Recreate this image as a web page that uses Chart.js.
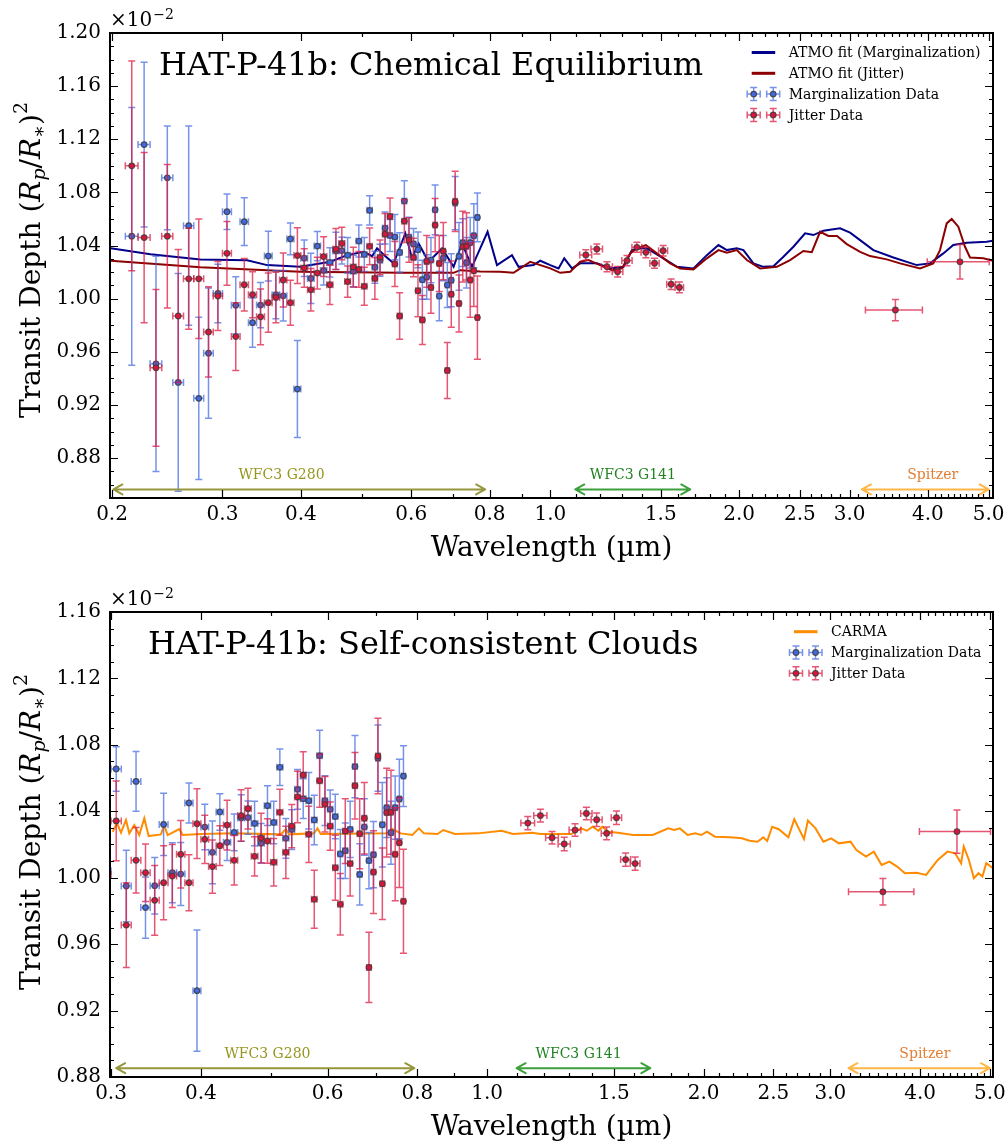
<!DOCTYPE html>
<html><head><meta charset="utf-8">
<script src="https://cdn.jsdelivr.net/npm/chart.js@4.4.1/dist/chart.umd.min.js"></script>
<style>
html,body{margin:0;padding:0;background:#fff;}
#wrap{position:relative;width:1008px;height:1142px;background:#fff;}
canvas{position:absolute;left:0;}
</style></head><body>
<div id="wrap"><canvas id="c1" width="1008" height="571" style="top:0px"></canvas><canvas id="c2" width="1008" height="571" style="top:571px"></canvas></div>
<script>
// ---------------- DATA ----------------
const wavelengthG280 = [0.215,0.225,0.235,0.245,0.255,0.265,0.275,0.285,0.295,0.305,0.315,0.325,0.335,0.345,0.355,0.365,0.375,0.385,0.395,0.405,0.415,0.425,0.435,0.445,0.455,0.465,0.475,0.485,0.495,0.505,0.515,0.525,0.535,0.545,0.555,0.565,0.575,0.585,0.595,0.605,0.615,0.625,0.635,0.645,0.655,0.665,0.675,0.685,0.695,0.705,0.715,0.725,0.735,0.745,0.755,0.765];
const margDepth = [1.047,1.116,0.951,1.091,0.937,1.055,0.925,0.959,1.004,1.0655,0.995,1.058,0.982,0.9952,1.0321,1.003,1.0022,1.045,0.932,1.0305,1.0153,1.0396,1.0213,1.0273,1.036,1.0362,1.0327,1.0207,1.0434,1.0333,1.0665,1.0237,1.029,1.0532,1.0476,1.0464,1.0348,1.0735,1.0464,1.0412,1.0368,1.0143,1.0163,1.0291,1.0669,1.002,1.0305,1.0103,1.0139,1.072,1.0319,1.0422,1.0271,1.0422,1.0474,1.0612];
const margErr = [0.097,0.062,0.081,0.039,0.082,0.075,0.061,0.049,0.022,0.0134,0.0215,0.018,0.0185,0.017,0.0187,0.018,0.019,0.012,0.0365,0.0137,0.0189,0.011,0.011,0.011,0.014,0.010,0.0134,0.012,0.012,0.0128,0.011,0.012,0.012,0.012,0.012,0.017,0.0149,0.0153,0.015,0.0116,0.0134,0.0147,0.0167,0.017,0.0187,0.0185,0.017,0.017,0.020,0.020,0.0255,0.018,0.019,0.019,0.024,0.0183];
const jitterDepthG280 = [1.100,1.046,0.948,1.047,0.987,1.015,1.015,0.975,1.002,1.0342,0.9715,1.0105,1.003,0.9864,0.997,1.001,1.0141,0.997,1.0325,1.0231,1.0067,1.0193,1.0317,1.0105,1.0374,1.0416,1.0129,1.0239,1.0221,1.0093,1.0394,1.0153,1.0311,1.0486,1.0619,1.0261,0.987,1.0584,1.0442,1.0311,1.006,0.984,1.0281,1.0085,1.0554,1.0265,1.0358,0.946,1.0034,1.0733,0.9964,1.0392,1.0394,1.0141,1.0211,0.9858];
const jitterErrG280 = [0.079,0.064,0.059,0.054,0.050,0.038,0.045,0.034,0.026,0.024,0.0255,0.0197,0.0173,0.021,0.0223,0.019,0.0203,0.0169,0.021,0.0145,0.016,0.012,0.015,0.0149,0.0155,0.0122,0.0118,0.0149,0.0134,0.0143,0.0138,0.0157,0.013,0.0155,0.014,0.017,0.0175,0.016,0.0167,0.0145,0.0195,0.0185,0.0195,0.0195,0.020,0.0211,0.0215,0.0211,0.0249,0.0227,0.0215,0.0267,0.0253,0.028,0.027,0.0313];
const halfBinG280 = 0.005;
const wavelengthG141 = [1.139,1.186,1.231,1.280,1.325,1.374,1.420,1.466,1.513,1.558,1.606];
const depthG141 = [1.0329,1.0374,1.0241,1.0203,1.0287,1.0387,1.0349,1.0267,1.0361,1.0109,1.0085];
const errG141 = [0.0040,0.0038,0.0038,0.0040,0.0038,0.0038,0.0040,0.0038,0.0040,0.0040,0.0040];
const halfBinG141 = 0.025;
const wavelengthSpitzer = [3.55,4.50];
const waveErrSpitzer = [0.37,0.51];
const depthSpitzer = [0.9915,1.0278];
const errSpitzer = [0.008,0.013];

const atmoMargWave = [0.199,0.2303,0.2767,0.3284,0.3534,0.3994,0.4459,0.474,0.5038,0.5196,0.5292,0.5456,0.5624,0.5871,0.6017,0.6165,0.6395,0.6718,0.701,0.7229,0.7499,0.7941,0.822,0.8685,0.8898,0.9401,0.9635,0.9996,1.0305,1.0523,1.0825,1.1159,1.1864,1.2458,1.3081,1.349,1.3908,1.4254,1.515,1.5913,1.6912,1.7765,1.8536,1.9116,1.983,2.0318,2.1078,2.1867,2.2684,2.3532,2.4412,2.5481,2.6268,2.725,2.8973,3.0057,3.1181,3.274,3.5234,3.8394,4.0313,4.233,4.3912,4.6125,4.9637,5.08];
const atmoMargDepth = [1.0379,1.0334,1.0296,1.029,1.0253,1.024,1.0278,1.0328,1.0353,1.032,1.0379,1.032,1.0266,1.0492,1.0304,1.0416,1.0278,1.0379,1.024,1.0416,1.024,1.0504,1.0253,1.0328,1.024,1.0253,1.0286,1.0253,1.0228,1.0304,1.0228,1.0266,1.0266,1.0228,1.024,1.0366,1.0379,1.0379,1.0304,1.024,1.0228,1.0328,1.0404,1.0366,1.0379,1.0366,1.0266,1.024,1.0245,1.0316,1.0391,1.0492,1.0479,1.0512,1.053,1.0497,1.0441,1.0366,1.031,1.0253,1.0266,1.0341,1.0404,1.0421,1.0429,1.0436];
const atmoJitterWave = [0.199,0.2767,0.3994,0.5764,0.701,0.7184,0.7731,0.832,0.8736,0.8954,0.9288,0.9996,1.037,1.0757,1.1159,1.1504,1.2008,1.2535,1.3003,1.3406,1.374,1.4201,1.4786,1.5526,1.6106,1.6912,1.7765,1.8536,1.9116,1.983,2.0573,2.1603,2.2967,2.4116,2.5321,2.6117,2.6923,2.7756,2.8656,2.9694,3.1181,3.2344,3.4388,3.6107,3.8858,4.0802,4.1818,4.2859,4.3652,4.4728,4.5838,4.6689,4.9023,5.08];
const atmoJitterDepth = [1.0286,1.0236,1.0203,1.0195,1.0195,1.0215,1.0205,1.0203,1.0195,1.0228,1.0278,1.0228,1.0195,1.0203,1.0278,1.0291,1.0253,1.0215,1.0228,1.0341,1.0379,1.0404,1.0341,1.0266,1.0228,1.0221,1.0304,1.0366,1.0347,1.0366,1.0291,1.0228,1.024,1.0291,1.0359,1.035,1.0504,1.0472,1.0472,1.0411,1.0353,1.0321,1.0296,1.0266,1.0228,1.0266,1.0366,1.0567,1.06,1.0542,1.0391,1.031,1.0304,1.0286];
const carmaWave = [0.3016,0.3058,0.3097,0.3147,0.3181,0.3232,0.3284,0.3337,0.3384,0.352,0.3557,0.3596,0.3732,0.3773,0.4,0.445,0.5166,0.5249,0.5305,0.5746,0.5809,0.5871,0.7266,0.7383,0.7582,0.787,0.8038,0.8168,0.8531,0.869,0.9022,0.9719,1.0471,1.0867,1.1562,1.1853,1.3094,1.3506,1.3758,1.4016,1.4278,1.4457,1.4732,1.5196,1.5968,1.699,1.7858,1.8192,1.8533,1.9001,1.9474,1.9846,2.0216,2.0728,2.178,2.2603,2.3173,2.3759,2.4203,2.4508,2.4903,2.5434,2.6234,2.6732,2.7069,2.7577,2.7921,2.8616,2.9341,3.0081,3.0831,3.2007,3.2607,3.3633,3.4482,3.5355,3.6246,3.7149,3.8088,3.9525,4.077,4.2321,4.3656,4.4742,4.5597,4.599,4.6752,4.7502,4.8207,4.8813,4.9425,5.05];
const carmaDepth = [1.0277,1.0328,1.0271,1.0348,1.0267,1.0317,1.0257,1.0358,1.0251,1.0261,1.0317,1.0257,1.0293,1.0257,1.0263,1.0267,1.0261,1.0293,1.0261,1.0267,1.0297,1.0263,1.0267,1.0293,1.0267,1.0257,1.0297,1.0267,1.0263,1.0287,1.0263,1.0267,1.0283,1.0263,1.0271,1.0263,1.0263,1.0297,1.0283,1.0307,1.0283,1.0307,1.0277,1.0271,1.0257,1.0257,1.0297,1.0287,1.0297,1.0257,1.0267,1.0257,1.0277,1.0247,1.0243,1.0237,1.0223,1.0217,1.0243,1.0221,1.0307,1.0292,1.0243,1.0352,1.0303,1.0233,1.0344,1.0297,1.0217,1.0237,1.0207,1.0217,1.0167,1.0127,1.0157,1.0077,1.0097,1.0067,1.0027,1.003,1.0017,1.0107,1.0157,1.0147,1.0087,1.0187,1.0107,0.9997,1.0027,1.0007,1.0087,1.0057];

const xTicksTop = [0.2,0.3,0.4,0.6,0.8,1.0,1.5,2.0,2.5,3.0,4.0,5.0];
const xTicksBottom = [0.3,0.4,0.6,0.8,1.0,1.5,2.0,2.5,3.0,4.0,5.0];
const yTicksTop = [0.88,0.92,0.96,1.00,1.04,1.08,1.12,1.16,1.20];
const yTicksBottom = [0.88,0.92,0.96,1.00,1.04,1.08,1.12,1.16];

const bandLabels = ['WFC3 G280','WFC3 G141','Spitzer'];
const bandStartTop = [0.201,1.096,3.14];
const bandEndTop = [0.787,1.671,5.0];
const bandLabelAtTop = [0.3726,1.354,4.07];
const bandStartBottom = [0.305,1.099,3.18];
const bandEndBottom = [0.792,1.686,5.0];
const bandLabelAtBottom = [0.495,1.34,4.06];

// ---------------- STYLE / HELPERS ----------------
const SERIF = '"DejaVu Serif", "Liberation Serif", serif';
const BLUE = 'rgb(65,105,225)', BLUE_BAR = 'rgba(65,105,225,0.72)';
const RED = 'rgb(220,20,60)', RED_BAR = 'rgba(220,20,60,0.72)';
const EDGE = 'rgba(60,60,60,0.85)';
const bandTextColor = ['rgb(150,150,30)','rgb(34,130,34)','rgb(226,125,50)'];
const bandArrowColor = ['rgb(150,150,60)','rgb(60,160,60)','rgb(255,182,70)'];

function pts(xs, ys){ return xs.map((x,i)=>({x:x, y:ys[i]})); }

const jitterWave = wavelengthG280.concat(wavelengthG141, wavelengthSpitzer);
const jitterDepth = jitterDepthG280.concat(depthG141, depthSpitzer);
const jitterErr = jitterErrG280.concat(errG141, errSpitzer);
const jitterWaveErr = wavelengthG280.map(()=>halfBinG280).concat(wavelengthG141.map(()=>halfBinG141), waveErrSpitzer);
const margWaveErr = wavelengthG280.map(()=>halfBinG280);

function errDataset(label, wave, depth, errY, errX, fill, bar, order){
  return {label, data: pts(wave, depth), errY, errX, errColor: bar,
    showLine:false, pointRadius:2.8, pointHoverRadius:2.8, pointBackgroundColor: fill,
    pointBorderColor: EDGE, pointBorderWidth:1.2, order, clip:0};
}
function lineDataset(label, wave, depth, color, order){
  return {label, data: pts(wave, depth), showLine:true, borderColor: color, borderWidth:2,
    pointRadius:0, pointHoverRadius:0, fill:false, tension:0, order, clip:0};
}

function drawErrSymbol(ctx, x, y, fill, bar){
  ctx.save();
  ctx.strokeStyle = bar; ctx.lineWidth = 1.5;
  ctx.beginPath();
  ctx.moveTo(x, y-6.5); ctx.lineTo(x, y+6.5);
  ctx.moveTo(x-6.5, y); ctx.lineTo(x+6.5, y);
  ctx.moveTo(x-3.5, y-6.5); ctx.lineTo(x+3.5, y-6.5);
  ctx.moveTo(x-3.5, y+6.5); ctx.lineTo(x+3.5, y+6.5);
  ctx.moveTo(x-6.5, y-3.5); ctx.lineTo(x-6.5, y+3.5);
  ctx.moveTo(x+6.5, y-3.5); ctx.lineTo(x+6.5, y+3.5);
  ctx.stroke();
  ctx.beginPath(); ctx.arc(x, y, 2.8, 0, Math.PI*2);
  ctx.fillStyle = fill; ctx.fill();
  ctx.strokeStyle = EDGE; ctx.lineWidth = 1.2; ctx.stroke();
  ctx.restore();
}

function drawArrow(ctx, x1, x2, y, color){
  ctx.save(); ctx.strokeStyle = color; ctx.lineWidth = 2; ctx.lineCap='round'; ctx.lineJoin='round';
  const hl = 9, hw = 5;
  ctx.beginPath();
  ctx.moveTo(x1, y); ctx.lineTo(x2, y);
  ctx.moveTo(x1+hl, y-hw); ctx.lineTo(x1, y); ctx.lineTo(x1+hl, y+hw);
  ctx.moveTo(x2-hl, y-hw); ctx.lineTo(x2, y); ctx.lineTo(x2-hl, y+hw);
  ctx.stroke(); ctx.restore();
}

function drawYTitle(ctx, baseX, cy){
  const parts = [
    {t:'Transit Depth (', f:'28px '+SERIF, dy:0},
    {t:'R', f:'italic 28px '+SERIF, dy:0},
    {t:'p', f:'italic 19px '+SERIF, dy:5},
    {t:'/', f:'28px '+SERIF, dy:0},
    {t:'R', f:'italic 28px '+SERIF, dy:0},
    {t:'\u2217', f:'19px '+SERIF, dy:5},
    {t:')', f:'28px '+SERIF, dy:0},
    {t:'2', f:'19px '+SERIF, dy:-13}
  ];
  ctx.save();
  ctx.translate(baseX, cy); ctx.rotate(-Math.PI/2);
  ctx.fillStyle = '#000'; ctx.textBaseline = 'alphabetic'; ctx.textAlign = 'left';
  let total = 0;
  parts.forEach(p=>{ ctx.font = p.f; p.w = ctx.measureText(p.t).width; total += p.w; });
  let x = -total/2;
  parts.forEach(p=>{ ctx.font = p.f; ctx.fillText(p.t, x, p.dy); x += p.w; });
  ctx.restore();
}

function makeDecor(cfg){
  return {
    id: 'decor'+cfg.id,
    beforeDatasetDraw(chart, args){
      const ds = chart.data.datasets[args.index];
      if (!ds.errY) return;
      const xs = chart.scales.x, ys = chart.scales.y, a = chart.chartArea, ctx = chart.ctx;
      ctx.save();
      ctx.beginPath(); ctx.rect(a.left, a.top, a.right-a.left, a.bottom-a.top); ctx.clip();
      ctx.strokeStyle = ds.errColor; ctx.lineWidth = 1.5;
      const c = 3.5;
      ds.data.forEach((p,i)=>{
        const px = xs.getPixelForValue(p.x), py = ys.getPixelForValue(p.y);
        const y1 = ys.getPixelForValue(p.y + ds.errY[i]), y2 = ys.getPixelForValue(p.y - ds.errY[i]);
        const x1 = xs.getPixelForValue(p.x - ds.errX[i]), x2 = xs.getPixelForValue(p.x + ds.errX[i]);
        ctx.beginPath();
        ctx.moveTo(px, y1); ctx.lineTo(px, y2);
        ctx.moveTo(x1, py); ctx.lineTo(x2, py);
        ctx.moveTo(px-c, y1); ctx.lineTo(px+c, y1);
        ctx.moveTo(px-c, y2); ctx.lineTo(px+c, y2);
        ctx.moveTo(x1, py-c); ctx.lineTo(x1, py+c);
        ctx.moveTo(x2, py-c); ctx.lineTo(x2, py+c);
        ctx.stroke();
      });
      ctx.restore();
    },
    afterDraw(chart){
      const ctx = chart.ctx, a = chart.chartArea, xs = chart.scales.x, ys = chart.scales.y;
      // instrument bands
      for (let i=0;i<cfg.bandStart.length;i++){
        const x1 = xs.getPixelForValue(cfg.bandStart[i]), x2 = xs.getPixelForValue(cfg.bandEnd[i]);
        drawArrow(ctx, x1, x2, ys.getPixelForValue(cfg.arrowY), bandArrowColor[i]);
        ctx.save(); ctx.font = '14px '+SERIF; ctx.fillStyle = bandTextColor[i];
        ctx.textAlign='center'; ctx.textBaseline='middle';
        ctx.fillText(bandLabels[i], xs.getPixelForValue(cfg.bandLabelAt[i]), ys.getPixelForValue(cfg.labelY));
        ctx.restore();
      }
      // ticks
      ctx.save(); ctx.strokeStyle = '#000'; ctx.lineWidth = 1.2;
      ctx.beginPath();
      const majX = cfg.xticks.map(v=>Math.round(v*10));
      for (let k=1;k<=60;k++){
        const v = k/10;
        if (v < xs.min || v > xs.max) continue;
        const L = majX.includes(k) ? 8 : 4;
        const px = Math.round(xs.getPixelForValue(v)) + 0.5;
        ctx.moveTo(px, a.bottom); ctx.lineTo(px, a.bottom - L);
        ctx.moveTo(px, a.top); ctx.lineTo(px, a.top + L);
      }
      const majY = cfg.yticks.map(v=>Math.round(v*100));
      for (let k=Math.ceil(ys.min*100-1e-6); k<=Math.floor(ys.max*100+1e-6); k++){
        const v = k/100;
        const L = majY.includes(k) ? 8 : 4;
        const py = Math.round(ys.getPixelForValue(v)) + 0.5;
        ctx.moveTo(a.left, py); ctx.lineTo(a.left + L, py);
        ctx.moveTo(a.right, py); ctx.lineTo(a.right - L, py);
      }
      ctx.stroke();
      // frame
      ctx.lineWidth = 2;
      ctx.strokeRect(a.left, a.top, a.right-a.left, a.bottom-a.top);
      ctx.restore();
      // title
      ctx.save(); ctx.fillStyle='#000'; ctx.font = '32px '+SERIF; ctx.textBaseline='alphabetic'; ctx.textAlign='left';
      ctx.fillText(cfg.title, cfg.titleX, a.top + 42);
      // offset text
      ctx.font = '20px '+SERIF;
      ctx.fillText('\u00d710', a.left, a.top - 7);
      const w = ctx.measureText('\u00d710').width;
      ctx.font = '14px '+SERIF;
      ctx.fillText('\u22122', a.left + w + 1, a.top - 14);
      // x axis title
      ctx.font = '28px '+SERIF; ctx.textAlign='center';
      ctx.fillText('Wavelength (\u00b5m)', (a.left+a.right)/2, a.bottom + 58);
      ctx.restore();
      drawYTitle(ctx, 40, cfg.yTitleCenter);
      // legend
      ctx.save();
      cfg.legend.forEach((e,i)=>{
        const y = a.top + cfg.legendTop + i*20.8;
        if (e.type === 'line'){
          ctx.strokeStyle = e.color; ctx.lineWidth = 3;
          ctx.beginPath(); ctx.moveTo(cfg.legendX, y); ctx.lineTo(cfg.legendX + 23.5, y); ctx.stroke();
        } else {
          drawErrSymbol(ctx, cfg.legendX + 2, y, e.fill, e.bar);
          drawErrSymbol(ctx, cfg.legendX + 21.5, y, e.fill, e.bar);
        }
        ctx.fillStyle = '#000'; ctx.font = '14px '+SERIF; ctx.textAlign='left'; ctx.textBaseline='middle';
        ctx.fillText(e.label, cfg.legendX + 37, y + 1);
      });
      ctx.restore();
    }
  };
}

function makeChart(canvas, cfg){
  return new Chart(canvas, {
    type: 'scatter',
    data: { datasets: cfg.datasets },
    options: {
      responsive:false, animation:false, devicePixelRatio:1,
      layout: { padding: { top: cfg.padTop, right: 15, left: 0, bottom: 0 } },
      plugins: { legend: { display:false }, tooltip: { enabled:false } },
      events: [],
      scales: {
        x: {
          type: 'logarithmic', min: cfg.xmin, max: cfg.xmax,
          grid: { display:false, drawTicks:false }, border: { display:false },
          ticks: { font: { family: SERIF, size: 20 }, color:'#000', padding: 5, autoSkip:false, maxRotation:0, minRotation:0,
                   callback: (v)=>Number(v).toFixed(1) },
          afterBuildTicks: (s)=>{ s.ticks = cfg.xticks.map(v=>({value:v})); },
          afterFit: (s)=>{ s.height = cfg.xAxisH; s.paddingLeft = 0; s.paddingRight = 0; }
        },
        y: {
          type: 'linear', min: cfg.ymin, max: cfg.ymax,
          grid: { display:false, drawTicks:false }, border: { display:false },
          ticks: { font: { family: SERIF, size: 20 }, color:'#000', padding: 9,
                   callback: (v)=>Number(v).toFixed(2) },
          afterBuildTicks: (s)=>{ s.ticks = cfg.yticks.map(v=>({value:v})); },
          afterFit: (s)=>{ s.width = 110; s.paddingTop = 0; s.paddingBottom = 0; }
        }
      }
    },
    plugins: [ makeDecor(cfg) ]
  });
}

makeChart(document.getElementById('c1'), {
  id: 1, padTop: 33, xAxisH: 73,
  xmin: 0.1985, xmax: 5.08, ymin: 0.85, ymax: 1.20,
  xticks: xTicksTop, yticks: yTicksTop,
  datasets: [
    lineDataset('ATMO fit (Marginalization)', atmoMargWave, atmoMargDepth, '#00008b', 4),
    lineDataset('ATMO fit (Jitter)', atmoJitterWave, atmoJitterDepth, '#8b0000', 3),
    errDataset('Marginalization Data', wavelengthG280, margDepth, margErr, margWaveErr, BLUE, BLUE_BAR, 2),
    errDataset('Jitter Data', jitterWave, jitterDepth, jitterErr, jitterWaveErr, RED, RED_BAR, 1)
  ],
  bandStart: bandStartTop, bandEnd: bandEndTop, bandLabelAt: bandLabelAtTop, arrowY: 0.8564, labelY: 0.8672,
  title: 'HAT-P-41b: Chemical Equilibrium', titleX: 159, yTitleCenter: 260,
  legendX: 751.7, legendTop: 19.5,
  legend: [
    {type:'line', color:'#00008b', label:'ATMO fit (Marginalization)'},
    {type:'line', color:'#8b0000', label:'ATMO fit (Jitter)'},
    {type:'err', fill:BLUE, bar:BLUE_BAR, label:'Marginalization Data'},
    {type:'err', fill:RED, bar:RED_BAR, label:'Jitter Data'}
  ]
});

makeChart(document.getElementById('c2'), {
  id: 2, padTop: 41, xAxisH: 65,
  xmin: 0.299, xmax: 5.05, ymin: 0.88, ymax: 1.16,
  xticks: xTicksBottom, yticks: yTicksBottom,
  datasets: [
    lineDataset('CARMA', carmaWave, carmaDepth, '#ff8c00', 3),
    errDataset('Marginalization Data', wavelengthG280, margDepth, margErr, margWaveErr, BLUE, BLUE_BAR, 2),
    errDataset('Jitter Data', jitterWave, jitterDepth, jitterErr, jitterWaveErr, RED, RED_BAR, 1)
  ],
  bandStart: bandStartBottom, bandEnd: bandEndBottom, bandLabelAt: bandLabelAtBottom, arrowY: 0.8853, labelY: 0.8937,
  title: 'HAT-P-41b: Self-consistent Clouds', titleX: 148, yTitleCenter: 261,
  legendX: 794, legendTop: 19.7,
  legend: [
    {type:'line', color:'#ff8c00', label:'CARMA'},
    {type:'err', fill:BLUE, bar:BLUE_BAR, label:'Marginalization Data'},
    {type:'err', fill:RED, bar:RED_BAR, label:'Jitter Data'}
  ]
});
</script>
</body></html>
